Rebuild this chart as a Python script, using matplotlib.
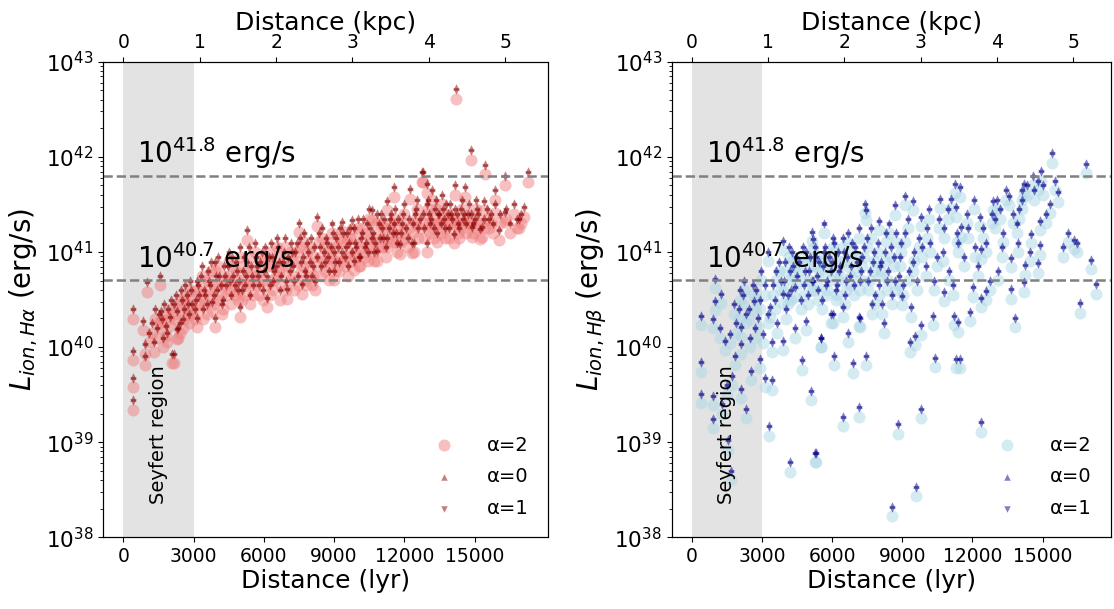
import numpy as np
import matplotlib
matplotlib.use("Agg")
import matplotlib.pyplot as plt

LYR_PER_KPC = 3261.56

# H-alpha panel: distance (lyr) and log10 L_ion for alpha=2 (circles)
ha_dist = [430, 430, 430, 430, 855, 930, 930, 1000, 1570, 1710, 2070, 2280, 2140,
           1100, 1200, 1300, 1450, 1500, 1650, 1800, 1900, 2000, 2150, 2300, 2400,
           2500, 2600, 2700, 2800, 2900, 1350, 1750, 2250, 2650, 2950,
           3140, 3920, 4990, 5270, 3100, 3200, 3300, 3400, 3500, 3600, 3700, 3800,
           3900, 4000, 4100, 4200, 4300, 4400, 4500, 4600, 4700, 4800, 4900, 5000,
           5100, 5200, 5300, 5400, 5500, 5600, 5700, 5800, 5900, 6000,
           6130, 7000, 7620, 8975, 7480, 8265, 6200, 6300, 6400, 6500, 6600, 6700,
           6800, 6900, 7100, 7200, 7300, 7400, 7600, 7700, 7800, 7900, 8000, 8100,
           8200, 8400, 8500, 8600, 8700, 8800, 8900, 9000,
           9830, 10830, 11830, 10470, 11260, 11540, 9335, 9760, 10620, 9100, 9200,
           9400, 9500, 9600, 9700, 9900, 10000, 10100, 10200, 10300, 10400, 10600,
           10700, 10900, 11000, 11100, 11200, 11400, 11500, 11600, 11700, 11900, 12000,
           12330, 12400, 12970, 14100, 15250, 16030, 16815, 12250, 12750, 12970, 12780,
           14180, 14600, 16310, 15460, 14850, 14220, 17280, 17100, 16360, 15890, 15420,
           15890, 16880, 16310, 14890, 15320, 12200, 12500, 12600, 12800, 13000, 13100,
           13300, 13400, 13500, 13700, 13800, 13900, 14000, 14300, 14400, 14500, 14700,
           15000, 15100, 15600, 15700, 13200, 13600,
           1600, 1850, 2050, 2350, 2450, 2550, 2750, 2850, 3050, 3150, 3250, 3350,
           3450, 3550, 3650, 3750, 3850, 3950, 4050, 4150, 4250, 4350, 4450, 4550,
           4650, 4750, 4850, 4950, 5050, 5150, 5250, 5350, 5450, 5550, 5650, 5750,
           5850, 5950, 6050, 6150, 6250, 6350, 6450, 6550, 6650, 6750, 6850, 6950,
           7050, 7150, 7250, 7350, 7450, 7550, 7650, 7750, 7850, 7950, 8050, 8150,
           8250, 8350, 8450, 8550, 8650, 8750, 8850, 8950, 9050, 9150, 9250, 9350,
           9450, 9550, 9650, 9750, 9850, 9950, 10050, 10150, 10250, 10350, 10450,
           10550, 10650, 10750, 10850, 10950, 11050, 11150, 11250, 11350, 11450,
           11550, 11650, 11750, 11850, 11950, 12050, 12150, 12350, 12450, 12550,
           12650, 12850, 12950, 13050, 13150, 13250, 13350, 13450, 13550, 13650,
           13750, 13850, 13950, 14050, 14150, 14250, 14350, 14450, 14550, 14650,
           14750, 14850, 14950, 15050, 15150, 15400, 15550, 15800, 16100, 16500,
           16700, 17000]
ha_logL = [39.34, 39.58, 39.86, 40.30, 40.18, 39.93, 39.81, 40.58, 40.65, 40.00, 39.83, 40.09, 39.83,
           40.05, 40.15, 39.95, 40.10, 40.25, 40.20, 40.12, 40.30, 40.22, 40.35, 40.28, 40.15,
           40.40, 40.30, 40.45, 40.25, 40.50, 40.30, 40.35, 40.45, 40.55, 40.35,
           40.21, 40.21, 40.32, 41.13, 40.40, 40.55, 40.65, 40.30, 40.45, 40.70, 40.55, 40.38,
           40.80, 40.50, 40.65, 40.35, 40.75, 40.55, 40.90, 40.45, 40.65, 40.80, 40.50, 40.95,
           40.70, 40.55, 40.80, 40.45, 40.65, 41.00, 40.75, 40.55, 40.90, 40.70,
           40.42, 40.51, 40.56, 40.70, 41.21, 41.27, 40.85, 41.00, 40.60, 40.75, 40.95, 40.50,
           40.80, 41.05, 40.70, 40.90, 40.60, 41.00, 40.80, 41.10, 40.65, 40.90, 41.05, 40.75,
           40.60, 40.95, 41.15, 40.80, 41.00, 40.70, 41.20, 40.90,
           40.81, 40.91, 40.98, 41.35, 41.44, 41.58, 41.22, 41.24, 41.34, 41.05, 40.80,
           41.10, 40.95, 40.75, 41.15, 41.00, 41.25, 40.85, 41.10, 40.95, 41.20, 41.05,
           40.90, 41.20, 41.30, 41.05, 40.95, 41.25, 41.10, 41.35, 41.00, 41.20, 41.40,
           40.99, 41.00, 41.00, 41.09, 41.14, 41.13, 41.25, 41.56, 41.74, 41.62, 41.74,
           41.60, 41.58, 41.70, 41.82, 41.97, 42.61, 41.74, 41.37, 41.35, 41.41, 41.44,
           41.55, 41.25, 41.32, 41.16, 41.16, 41.25, 41.35, 41.15, 41.30, 41.45, 41.20,
           41.35, 41.10, 41.30, 41.25, 41.40, 41.15, 41.30, 41.20, 41.35, 41.25, 41.30,
           41.25, 41.35, 41.25, 41.30, 41.55, 41.50,
           40.28, 40.05, 40.40, 40.10, 40.50, 40.20, 40.35, 40.60, 40.30, 40.60, 40.45, 40.75,
           40.50, 40.35, 40.60, 40.80, 40.45, 40.65, 40.85, 40.55, 40.40, 40.65, 40.75, 40.60,
           40.85, 40.55, 40.70, 40.60, 40.50, 40.85, 40.65, 40.95, 40.75, 40.55, 40.85, 40.65,
           40.80, 40.50, 40.95, 40.65, 40.55, 40.85, 40.70, 41.05, 40.80, 40.65, 40.90, 40.60,
           40.85, 41.00, 40.75, 40.90, 40.65, 41.05, 40.85, 40.70, 41.00, 40.80, 40.65, 40.95,
           40.85, 41.10, 40.75, 40.90, 41.05, 40.85, 40.95, 41.10, 40.80, 40.95, 41.15, 40.90,
           40.85, 41.10, 41.00, 40.90, 41.15, 40.95, 40.85, 41.05, 41.25, 41.00, 40.90,
           41.15, 41.10, 41.00, 41.30, 41.05, 41.15, 41.25, 41.05, 41.15, 41.30,
           41.20, 41.10, 41.25, 41.10, 41.30, 41.15, 41.05, 41.20, 41.30, 41.45,
           41.25, 41.15, 41.40, 41.30, 41.25, 41.15, 41.45, 41.30, 41.20, 41.35,
           41.15, 41.30, 41.40, 41.25, 41.35, 41.30, 41.15, 41.45, 41.30, 41.20,
           41.40, 41.30, 41.20, 41.45, 41.30, 41.25, 41.35, 41.20, 41.30, 41.20,
           41.40, 41.30]

# H-beta panel
hb_dist = [414, 910, 980, 980, 1260, 414, 414, 910, 910, 1680, 1550, 2340, 2120, 1840,
           2120, 2550, 2910, 1430, 1650, 2120, 2480, 2840, 2650, 1300, 1700, 2000, 2300,
           2700, 1900, 2200, 2600, 2900, 1200, 1500,
           3120, 3450, 3300, 4190, 4730, 5090, 5260, 3050, 3450, 3900, 3350, 3480, 3900,
           4400, 3900, 5180, 3270, 5640, 5130, 4900, 5530, 5950, 7180, 5320, 6090, 6900,
           7430, 6460, 7170, 8560, 9575, 8810, 9810, 9330, 10400, 11300, 5540, 9530, 9810,
           10310, 9390, 7150, 6040, 6460, 8990, 10790, 11220, 8670, 9100, 9460, 7410, 9810,
           10160, 10600, 11100, 11250, 8010, 7440,
           3600, 3800, 4000, 4100, 4200, 4300, 4500, 4600, 4800, 4900, 5000, 5200, 5300,
           5400, 5600, 5700, 5800, 6000, 6100, 6200, 6300, 6500, 6600, 6700, 6800, 7000,
           7200, 7300, 7500, 7600, 7800, 8000, 8100, 8300, 8400, 8500, 8700, 8900, 9100,
           9300, 9500, 9700, 10000, 10200, 10500, 10800, 11000, 11400,
           4400, 6700, 8200, 7700,
           11380, 11460, 12350, 11890, 12380, 12590, 12020, 12380, 12950, 12310, 13160,
           12880, 11520, 13550, 14120, 14200, 15420, 16850, 14800, 14600, 15000, 15640,
           15300, 14870, 14520, 14870, 14800, 14230, 14200, 13650, 13650, 13800, 15870,
           16340, 17050, 17280, 16590, 11460, 11300, 13300, 13900, 12600, 13100, 14000,
           11800, 12100,
           1800, 2050, 2250, 2450, 2750, 2950, 3150, 3250, 3550, 3650, 3750, 3950, 4050,
           4150, 4250, 4350, 4450, 4650, 4750, 4850, 4950, 5050, 5150, 5250, 5350, 5450,
           5550, 5650, 5750, 5850, 5950, 6050, 6150, 6250, 6350, 6450, 6550, 6650, 6750,
           6850, 6950, 7050, 7150, 7250, 7350, 7550, 7650, 7750, 7850, 7950, 8050, 8150,
           8250, 8350, 8450, 8550, 8650, 8750, 8850, 8950, 9050, 9250, 9450, 9650, 9850,
           10050, 10350, 10550, 10750, 10950, 11150, 11350, 11650, 11750, 12050, 12250,
           12450, 12750, 12850, 13050, 13250, 13450, 13750, 13950, 14100, 14350, 14450,
           14650, 14950, 15150, 15550, 16100, 16450]
hb_logL = [40.23, 40.20, 40.39, 40.62, 40.46, 39.74, 39.41, 39.39, 39.15, 38.60, 38.92, 39.25, 39.46, 39.81,
           39.93, 39.65, 39.78, 39.97, 40.04, 40.11, 40.00, 40.21, 40.39, 39.30, 39.60, 40.30, 40.25,
           40.10, 40.15, 40.45, 40.55, 40.40, 40.10, 39.50,
           39.58, 39.55, 39.07, 38.69, 39.76, 39.44, 38.79, 40.04, 39.95, 39.97, 40.32, 40.55, 40.46,
           40.53, 41.02, 41.04, 40.90, 41.20, 41.11, 40.18, 40.00, 40.25, 40.21, 38.79, 39.81, 39.73,
           39.81, 39.17, 39.27, 38.22, 38.43, 39.09, 39.25, 39.95, 39.79, 39.78, 40.00, 40.02, 40.13,
           40.23, 40.32, 40.22, 40.25, 40.32, 40.44, 40.48, 40.23, 41.39, 41.49, 41.44, 41.41, 41.27,
           41.35, 41.46, 41.46, 41.62, 41.23, 41.34,
           40.70, 40.60, 40.80, 40.45, 40.70, 40.90, 40.65, 40.80, 40.55, 40.90, 40.70, 40.60, 40.85,
           40.50, 40.75, 40.95, 40.60, 40.80, 41.00, 40.55, 40.70, 40.90, 40.60, 41.10, 40.75, 40.95,
           40.60, 40.85, 41.05, 40.70, 40.90, 40.55, 40.80, 41.10, 40.70, 40.95, 40.60, 40.85, 41.10,
           40.70, 40.90, 41.05, 40.75, 41.00, 40.85, 41.15, 40.70, 41.00,
           40.10, 40.05, 40.15, 40.35,
           40.16, 39.78, 39.11, 40.27, 40.42, 40.49, 40.53, 40.93, 41.25, 41.27, 41.35,
           41.44, 41.16, 41.49, 41.55, 41.62, 41.94, 41.83, 41.65, 41.70, 41.60, 41.53,
           41.41, 41.23, 41.09, 40.97, 40.78, 40.76, 40.58, 40.84, 40.51, 40.21, 40.95,
           41.03, 40.82, 40.56, 40.36, 41.58, 41.37, 41.10, 41.20, 41.00, 40.70, 41.35,
           41.15, 40.95,
           40.35, 40.50, 40.60, 40.30, 40.50, 40.70, 40.55, 40.25, 40.40, 40.15, 40.80, 40.60, 40.30,
           40.95, 40.50, 40.75, 40.85, 40.40, 40.95, 40.70, 40.45, 40.85, 40.60, 40.95, 40.65, 40.80,
           40.40, 40.90, 40.55, 40.85, 40.70, 41.05, 40.50, 40.90, 40.75, 41.05, 40.45, 40.85, 40.65,
           41.00, 40.55, 40.80, 41.15, 40.70, 40.95, 40.60, 41.15, 40.80, 40.45, 41.00, 40.75, 40.35,
           40.90, 40.60, 41.20, 40.45, 40.85, 41.10, 40.65, 41.00, 40.55, 41.25, 40.80, 40.60, 40.95,
           41.15, 40.60, 41.25, 40.90, 41.35, 40.55, 41.10, 40.85, 41.30, 41.45, 40.75,
           41.15, 40.60, 41.30, 41.45, 40.95, 41.55, 41.30, 41.00, 41.45, 41.60, 40.90,
           41.55, 41.75, 41.30, 41.65, 41.10, 41.00]

# shift of the alpha=0 / alpha=1 points above alpha=2 (dex)
shift_a0 = 0.12
shift_a1 = 0.078

ref_lines = [41.8, 40.7]
seyfert_lyr = 3000

panels = [
    dict(dist=ha_dist, logL=ha_logL, c2="lightcoral", c01="darkred",
         ylabel=r"$L_{ion,H\alpha}$ (erg/s)", rect=[0.0925, 0.1177, 0.3995, 0.781],
         xlim=(-870, 18140)),
    dict(dist=hb_dist, logL=hb_logL, c2="lightblue", c01="darkblue",
         ylabel=r"$L_{ion,H\beta}$ (erg/s)", rect=[0.603, 0.1177, 0.394, 0.781],
         xlim=(-855, 17910)),
]

fig = plt.figure(figsize=(11.14, 6.09), dpi=100)

for p in panels:
    ax = fig.add_axes(p["rect"])
    d = np.array(p["dist"])
    L = np.array(p["logL"])
    ax.axvspan(0, seyfert_lyr, color="0.89", lw=0, zorder=0)
    ax.scatter(d, 10 ** L, s=75, c=p["c2"], alpha=0.5, lw=0, label="α=2", zorder=2)
    ax.scatter(d, 10 ** (L + shift_a0), s=22, marker="^", c=p["c01"], alpha=0.5, lw=0,
               label="α=0", zorder=3)
    ax.scatter(d, 10 ** (L + shift_a1), s=22, marker="v", c=p["c01"], alpha=0.5, lw=0,
               label="α=1", zorder=3)
    for yl in ref_lines:
        ax.axhline(10 ** yl, color="gray", ls="--", lw=1.8, zorder=4)
        ax.text(600, 10 ** (yl + 0.05), r"$10^{%s}$ erg/s" % yl, fontsize=20,
                va="bottom", ha="left", zorder=5)
    ax.text(1500, 10 ** 38.35, "Seyfert region", rotation=90, fontsize=14,
            ha="center", va="bottom", zorder=5)
    ax.set_yscale("log")
    ax.set_ylim(1e38, 1e43)
    ax.set_xlim(*p["xlim"])
    ax.set_xticks([0, 3000, 6000, 9000, 12000, 15000])
    ax.set_xlabel("Distance (lyr)", fontsize=18, labelpad=2)
    ax.set_ylabel(p["ylabel"], fontsize=20, labelpad=4)
    ax.tick_params(axis="x", labelsize=13.5)
    ax.tick_params(axis="y", labelsize=15.5)
    ax.legend(loc="lower right", frameon=False, fontsize=14, borderaxespad=0.6,
              handletextpad=1.2, labelspacing=0.65)

    top = ax.twiny()
    top.set_xlim(p["xlim"][0] / LYR_PER_KPC, p["xlim"][1] / LYR_PER_KPC)
    top.set_xticks([0, 1, 2, 3, 4, 5])
    top.set_xlabel("Distance (kpc)", fontsize=18, labelpad=2)
    top.tick_params(labelsize=13.5)

fig.savefig("out.png", dpi=100)
